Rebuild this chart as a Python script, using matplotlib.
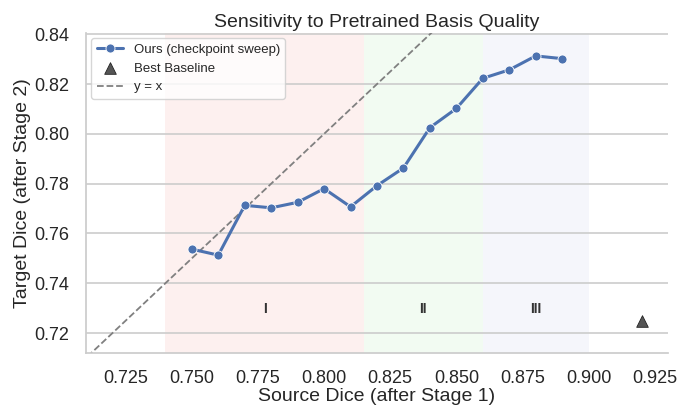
import matplotlib
matplotlib.use("Agg")
import matplotlib.pyplot as plt
import seaborn as sns

# Checkpoint sweep: source dice vs target dice
source_dice = [0.75, 0.76, 0.77, 0.78, 0.79, 0.80, 0.81, 0.82, 0.83, 0.84, 0.85, 0.86, 0.87, 0.88, 0.89]
target_dice = [0.7537, 0.7513, 0.7713, 0.7703, 0.7725, 0.7780, 0.7707, 0.7792, 0.7863,
               0.8025, 0.8102, 0.8223, 0.8257, 0.8313, 0.8302]

baseline_x = [0.92]
baseline_y = [0.725]

# Regimes
region_labels = ["I", "II", "III"]
region_bounds = [(0.74, 0.815), (0.815, 0.86), (0.86, 0.90)]
region_colors = ["#fdf0ef", "#f2fbf2", "#f5f6fb"]

sns.set_theme(style="whitegrid")
plt.rcParams["font.family"] = ["Liberation Sans", "DejaVu Sans"]

fig, ax = plt.subplots(figsize=(6.91, 4.08), dpi=100)
fig.subplots_adjust(left=86 / 691, right=668 / 691, top=1 - 33 / 408, bottom=1 - 353 / 408)

for (lo, hi), col, lab in zip(region_bounds, region_colors, region_labels):
    ax.axvspan(lo, hi, color=col, lw=0, zorder=0)
    ax.text((lo + hi) / 2, 0.7297, lab, ha="center", va="center",
            fontsize=10, fontweight="bold", color="#333333")

ax.plot(source_dice, target_dice, "-o", color="#4c72b0", lw=2.2, ms=6.5,
        mec="white", mew=0.6, label="Ours (checkpoint sweep)", zorder=3)
ax.scatter(baseline_x, baseline_y, marker="^", s=70, color="#555555",
           edgecolor="#222222", lw=0.6, label="Best Baseline", zorder=3)
ax.plot([0.70, 0.95], [0.70, 0.95], "--", color="gray", lw=1.3, label="y = x", zorder=2)

ax.set_xlim(0.71, 0.93)
ax.set_ylim(0.712, 0.8405)
ax.set_xticks([0.725, 0.75, 0.775, 0.80, 0.825, 0.85, 0.875, 0.90, 0.925])
ax.set_xticklabels(["0.725", "0.750", "0.775", "0.800", "0.825", "0.850", "0.875", "0.900", "0.925"])
ax.set_yticks([0.72, 0.74, 0.76, 0.78, 0.80, 0.82, 0.84])
ax.grid(axis="x", visible=False)
ax.grid(axis="y", color="#cccccc", lw=1.2)
ax.tick_params(labelsize=13, pad=6)

ax.set_xlabel("Source Dice (after Stage 1)", fontsize=14, labelpad=1)
ax.set_ylabel("Target Dice (after Stage 2)", fontsize=14, labelpad=2)
ax.set_title("Sensitivity to Pretrained Basis Quality", fontsize=14, pad=4)

sns.despine(ax=ax, top=True, right=True)
for s in ["left", "bottom"]:
    ax.spines[s].set_color("#cccccc")

ax.legend(loc="upper left", fontsize=9.5, frameon=True, framealpha=0.8,
          borderaxespad=0.4)

plt.savefig("out.png", dpi=100)
